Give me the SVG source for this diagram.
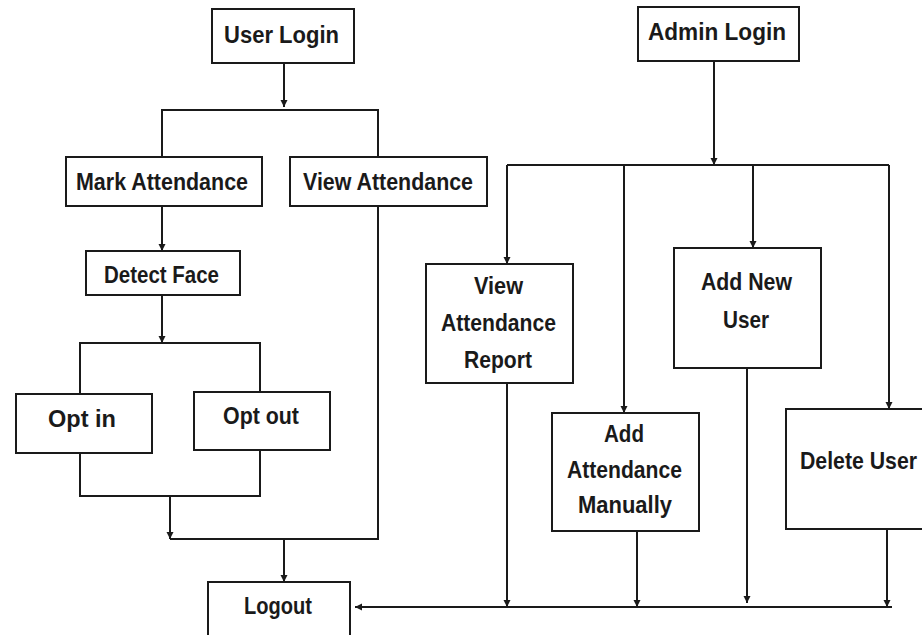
<svg xmlns="http://www.w3.org/2000/svg" width="922" height="635" viewBox="0 0 922 635">
<style>
.box{fill:#fff;stroke:#1a1a1a;stroke-width:2}
.t{font-family:"Liberation Sans",Arial,sans-serif;font-weight:bold;font-size:24px;fill:#1a1a1a;text-anchor:start}
.c{fill:none;stroke:#1a1a1a;stroke-width:2}
.a{marker-end:url(#ah)}
</style>
<defs>
<marker id="ah" markerUnits="userSpaceOnUse" markerWidth="8" markerHeight="8" refX="7" refY="4" orient="auto">
<path d="M0,0.5 L7,4 L0,7.5 z" fill="#1a1a1a"/>
</marker>
</defs>
<rect width="922" height="635" fill="#fff"/>
<g id="connectors">
<path class="c a" d="M284,63 V107"/>
<path class="c" d="M162,157 V110 H378 V157"/>
<path class="c a" d="M162,206 V251"/>
<path class="c a" d="M162,295 V343"/>
<path class="c" d="M80,394 V343 H260 V392"/>
<path class="c" d="M80,453 V496 H260 V450"/>
<path class="c a" d="M170,496 V539"/>
<path class="c" d="M170,539 H378 V206"/>
<path class="c a" d="M284,539 V582"/>
<path class="c a" d="M714,61 V165"/>
<path class="c" d="M507,165 H889"/>
<path class="c a" d="M507,165 V264"/>
<path class="c a" d="M624,165 V413"/>
<path class="c a" d="M753,165 V248"/>
<path class="c a" d="M889,165 V409"/>
<path class="c a" d="M507,383 V607"/>
<path class="c a" d="M637,531 V607"/>
<path class="c a" d="M747,368 V603"/>
<path class="c a" d="M887,529 V607"/>
<path class="c a" d="M892,607 H355"/>
</g>
<g id="user-login"><rect class="box" x="212" y="9" width="142" height="54"/><text class="t" x="224" y="43" textLength="115" lengthAdjust="spacingAndGlyphs">User Login</text></g>
<g id="admin-login"><rect class="box" x="638" y="7" width="161" height="54"/><text class="t" x="648" y="40" textLength="138" lengthAdjust="spacingAndGlyphs">Admin Login</text></g>
<g id="mark-attendance"><rect class="box" x="66" y="157" width="196" height="49"/><text class="t" x="76" y="190" textLength="172" lengthAdjust="spacingAndGlyphs">Mark Attendance</text></g>
<g id="view-attendance"><rect class="box" x="290" y="157" width="197" height="49"/><text class="t" x="303" y="190" textLength="170" lengthAdjust="spacingAndGlyphs">View Attendance</text></g>
<g id="detect-face"><rect class="box" x="86" y="251" width="154" height="44"/><text class="t" x="104" y="283" textLength="115" lengthAdjust="spacingAndGlyphs">Detect Face</text></g>
<g id="opt-in"><rect class="box" x="16" y="394" width="136" height="59"/><text class="t" x="48" y="427" textLength="68" lengthAdjust="spacingAndGlyphs">Opt in</text></g>
<g id="opt-out"><rect class="box" x="194" y="392" width="136" height="58"/><text class="t" x="223" y="424" textLength="76" lengthAdjust="spacingAndGlyphs">Opt out</text></g>
<g id="logout"><rect class="box" x="208" y="582" width="142" height="56"/><text class="t" x="244" y="614" textLength="68" lengthAdjust="spacingAndGlyphs">Logout</text></g>
<g id="view-attendance-report"><rect class="box" x="426" y="264" width="147" height="119"/>
<text class="t" x="474" y="294" textLength="49" lengthAdjust="spacingAndGlyphs">View</text>
<text class="t" x="441" y="331" textLength="115" lengthAdjust="spacingAndGlyphs">Attendance</text>
<text class="t" x="464" y="368" textLength="68" lengthAdjust="spacingAndGlyphs">Report</text></g>
<g id="add-new-user"><rect class="box" x="674" y="248" width="147" height="120"/>
<text class="t" x="701" y="290" textLength="91" lengthAdjust="spacingAndGlyphs">Add New</text>
<text class="t" x="723" y="328" textLength="46" lengthAdjust="spacingAndGlyphs">User</text></g>
<g id="add-attendance-manually"><rect class="box" x="552" y="413" width="147" height="118"/>
<text class="t" x="604" y="442" textLength="40" lengthAdjust="spacingAndGlyphs">Add</text>
<text class="t" x="567" y="478" textLength="115" lengthAdjust="spacingAndGlyphs">Attendance</text>
<text class="t" x="578" y="513" textLength="94" lengthAdjust="spacingAndGlyphs">Manually</text></g>
<g id="delete-user"><rect class="box" x="786" y="409" width="146" height="120"/>
<text class="t" x="800" y="469" textLength="117" lengthAdjust="spacingAndGlyphs">Delete User</text></g>
</svg>
